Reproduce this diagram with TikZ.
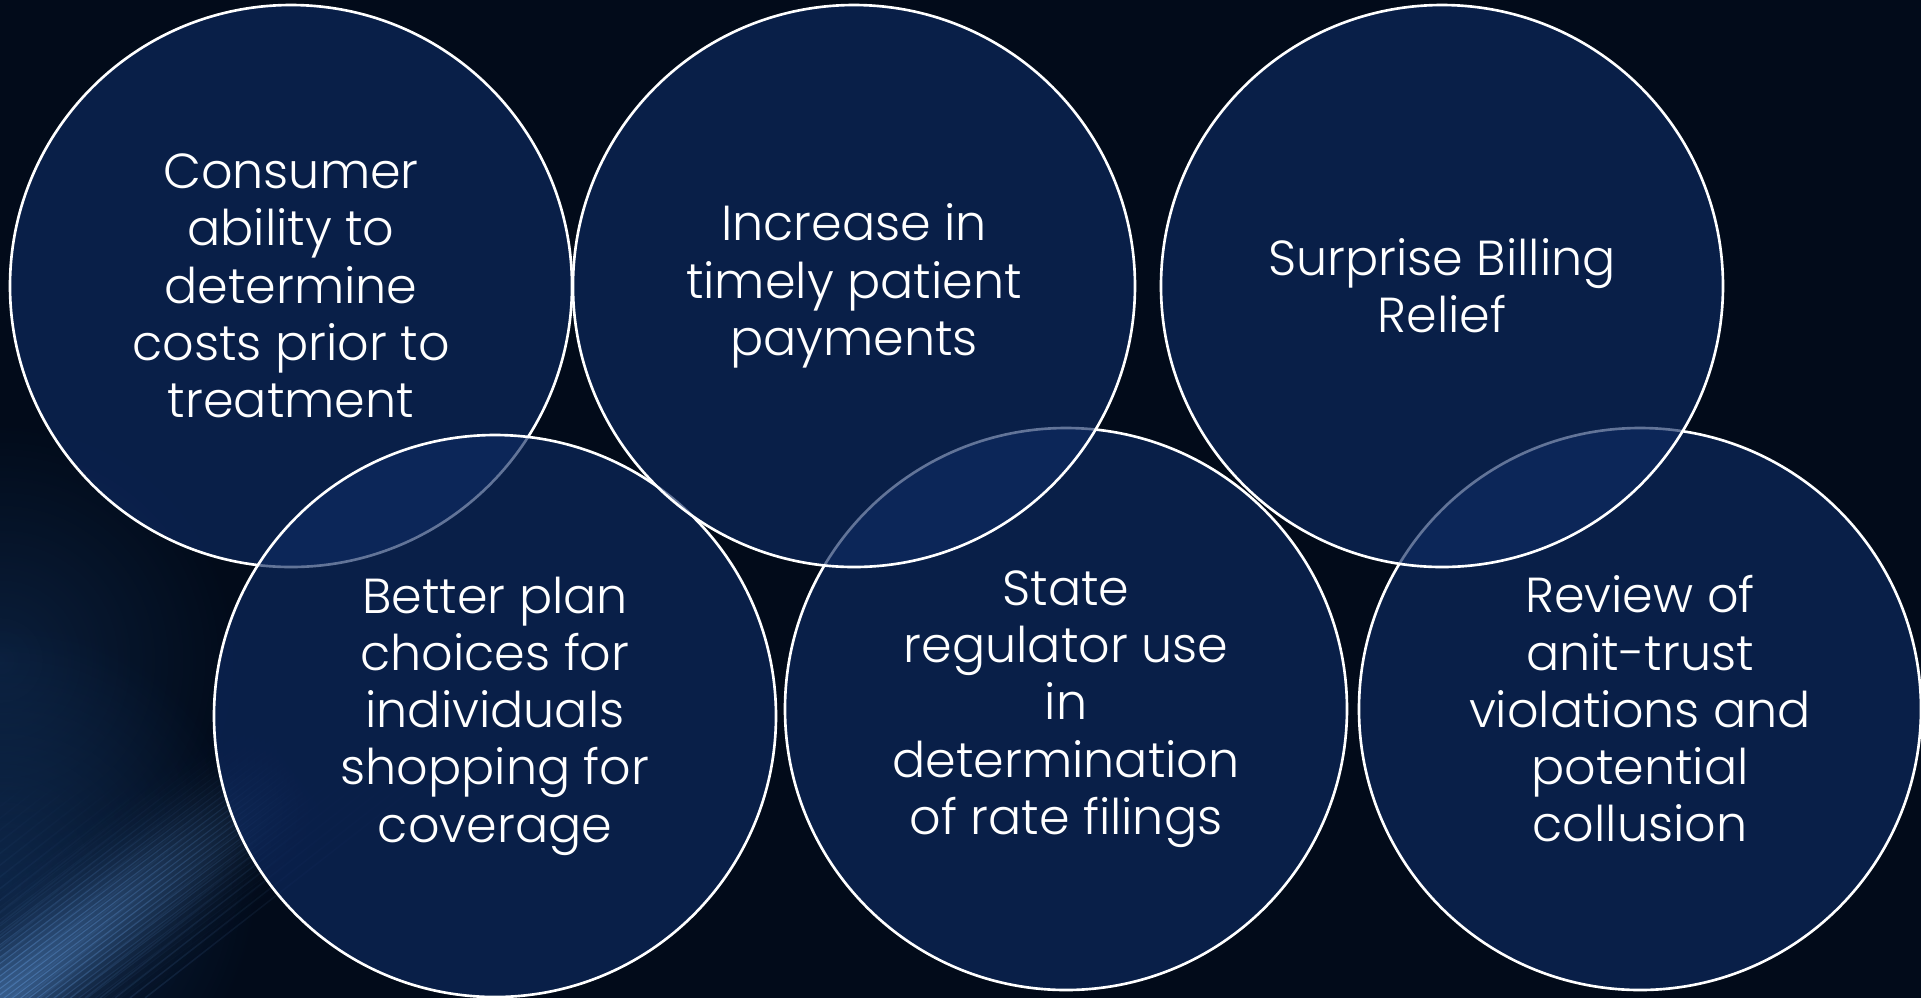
\documentclass[tikz,border=0pt]{standalone}
\usepackage{fontspec}
\setmainfont{Poppins}[UprightFont=* Light]
\usetikzlibrary{positioning,fadings}

\definecolor{bgnavy}{RGB}{2,11,26}
\definecolor{bubblefill}{RGB}{14,42,98}
\definecolor{glowblue}{RGB}{30,75,135}
\definecolor{streakblue}{RGB}{85,135,195}
\tikzfading[name=softglow, inner color=transparent!0, outer color=transparent!100]

\begin{document}
\begin{tikzpicture}[every node/.style={font=\fontsize{14}{16.3}\selectfont},
    bubble/.style={circle, draw=white, line width=0.75pt, fill=bubblefill, fill opacity=0.65,
      text opacity=1, text=white, minimum size=5.62cm, inner sep=0pt, align=center}]
  \useasboundingbox (0,0) rectangle (19.21,-9.98);
  \fill[bgnavy] (0,0) rectangle (19.21,-9.98);
  % haze and light streaks in the lower left corner
  \begin{scope}
    \clip (0,0) rectangle (19.21,-9.98);
    \fill[glowblue, path fading=softglow, opacity=0.3] (0,-6.6) circle (2.4);
    \fill[glowblue, path fading=softglow, opacity=0.4] (0,-8.8) circle (2.6);
    \foreach \s in {-1.2,-1.15,...,1.2} {
      \pgfmathsetmacro\op{0.7*exp(-(\s*\s)/0.2)}
      \draw[streakblue, line width=0.06cm, opacity=\op, path fading=east]
        (0,-9.98) ++(127:\s) ++(217:0.5) -- ++(37:4.2);
    }
    \foreach \s in {-2.6,-2.45,...,1.6}
      \draw[streakblue, line width=0.015cm, opacity=0.15, path fading=east] (\s,-9.98) -- ++(38:3.6);
  \end{scope}
  \node[bubble] (cost) at (2.91,-2.86) {Consumer\\ability to\\determine\\costs prior to\\treatment};
  \node[bubble] (plans) at (4.95,-7.16) {Better plan\\choices for\\individuals\\shopping for\\coverage};
  \node[bubble] (rates) at (10.66,-7.09) {State\\regulator use\\in\\determination\\of rate filings};
  \node[bubble] (trust) at (16.40,-7.09) {Review of\\anit-trust\\violations and\\potential\\collusion};
  \node[bubble] (pay) at (8.54,-2.86) {Increase in\\timely patient\\payments};
  \node[bubble] (billing) at (14.42,-2.86) {Surprise Billing\\Relief};
\end{tikzpicture}
\end{document}
